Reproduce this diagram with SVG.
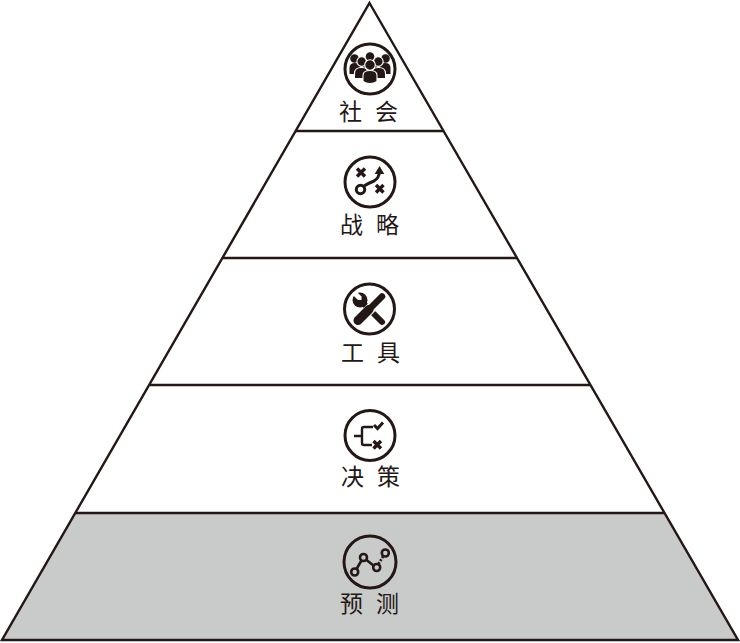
<svg xmlns="http://www.w3.org/2000/svg" width="740" height="643" viewBox="0 0 740 643">
<style>
.l{font-family:"Noto Sans CJK SC","Noto Sans",sans-serif;font-size:23px;fill:#231815}
.r{fill:none;stroke:#231815;stroke-width:3}
.f{fill:#231815}
.g{fill:#231815;stroke:#fff;stroke-width:1.100}
.x{fill:none;stroke:#231815;stroke-width:3.400}
.n{fill:none;stroke:#231815;stroke-width:2.600}
</style>
<rect width="740" height="643" fill="#fff"/>
<g id="pyramid">
<polygon points="76,513 664,513 738,640 2,640" fill="#c9caca"/>
</g>
<g id="connectors" fill="none" stroke="#231815" stroke-width="2.400">
<polygon points="369.500,3 738,640 2,640"/>
<line x1="296" y1="131" x2="443" y2="131"/>
<line x1="223" y1="258" x2="517" y2="258"/>
<line x1="150" y1="385" x2="590" y2="385"/>
<line x1="76" y1="513" x2="664" y2="513"/>
</g>
<g id="n1">
<circle class="r" cx="370" cy="69" r="25"/>
<circle class="f" cx="370" cy="56.500" r="4.300"/>
<circle class="f" cx="354.500" cy="58.500" r="4.300"/><circle class="f" cx="385.500" cy="58.500" r="4.300"/>
<path class="f" d="M362 72v-3q0-5 8-5t8 5v3z"/>
<path class="f" d="M349.500 74v-6q0-5 5.500-5t5.500 5v6zM379.500 74v-6q0-5 5.500-5t5.500 5v6z"/>
<circle class="g" cx="361.700" cy="61.500" r="4.800"/><circle class="g" cx="378.300" cy="61.500" r="4.800"/>
<path class="g" d="M354.500 78.500v-5q0-6 7-6t7 6v5zM371.500 78.500v-5q0-6 7-6t7 6v5z"/>
<circle class="g" cx="370" cy="65" r="5.300"/>
<path class="g" d="M363 81.500v-6q0-5 7-5t7 5v6q-3 2-7 2t-7-2z"/>
<text class="l" x="339" y="120">社</text><text class="l" x="375" y="120">会</text>
</g>
<g id="n2">
<circle class="r" cx="370" cy="182" r="25"/>
<path class="x" d="M357 168.500l8 8M365 168.500l-8 8M376 185l7.500 7.500M383.500 185l-7.500 7.500"/>
<circle cx="360.500" cy="189.500" r="4.200" fill="none" stroke="#231815" stroke-width="3"/>
<path d="M364 186q5-3 10-5 5-3 5.500-9" fill="none" stroke="#231815" stroke-width="3"/>
<path class="f" d="M379.500 166l4.800 8h-9.600z"/>
<text class="l" x="340" y="233">战</text><text class="l" x="376" y="233">略</text>
</g>
<g id="n3">
<path d="M358 298l24 24" stroke="#231815" stroke-width="6" stroke-linecap="round"/>
<circle class="f" cx="360" cy="300" r="7.500"/>
<path d="M354 289l7.500 7.500 0 3.500-3.500 0-8-7.500z" fill="#fff"/>
<path d="M356 323l27-27" stroke="#fff" stroke-width="10.500"/>
<path d="M358 320.500l11-11" stroke="#231815" stroke-width="9" stroke-linecap="round"/>
<path d="M366 312.500l16-16" stroke="#231815" stroke-width="6.500" stroke-linecap="round"/>
<circle class="r" cx="369.500" cy="309" r="25"/>
<text class="l" x="341" y="361">工</text><text class="l" x="377" y="361">具</text>
</g>
<g id="n4">
<circle class="r" cx="370" cy="435.500" r="25"/>
<path d="M354 436h7.500M373 427h-9a2 2 0 0 0-2 2v14a2 2 0 0 0 2 2h8" fill="none" stroke="#231815" stroke-width="2.400"/>
<path d="M374 425l3.500 3.500 5.500-6" fill="none" stroke="#231815" stroke-width="3"/>
<path class="x" d="M373.500 441l7.500 7.500M381 441l-7.500 7.500"/>
<text class="l" x="341" y="485">决</text><text class="l" x="377" y="485">策</text>
</g>
<g id="n5">
<circle class="r" cx="370" cy="562" r="26"/>
<path class="n" d="M356.500 569l5-8.500M366.500 560l7 5.500"/>
<path class="n" d="M378.500 564l4.500-7.500" stroke-dasharray="2 1.500"/>
<circle class="n" cx="354.700" cy="572" r="3.500"/>
<circle class="n" cx="363.500" cy="557.500" r="3.500"/>
<circle class="n" cx="376.700" cy="567.500" r="3.500"/>
<circle class="n" cx="385.300" cy="553" r="3.500"/>
<text class="l" x="340" y="612">预</text><text class="l" x="376" y="612">测</text>
</g>
</svg>
